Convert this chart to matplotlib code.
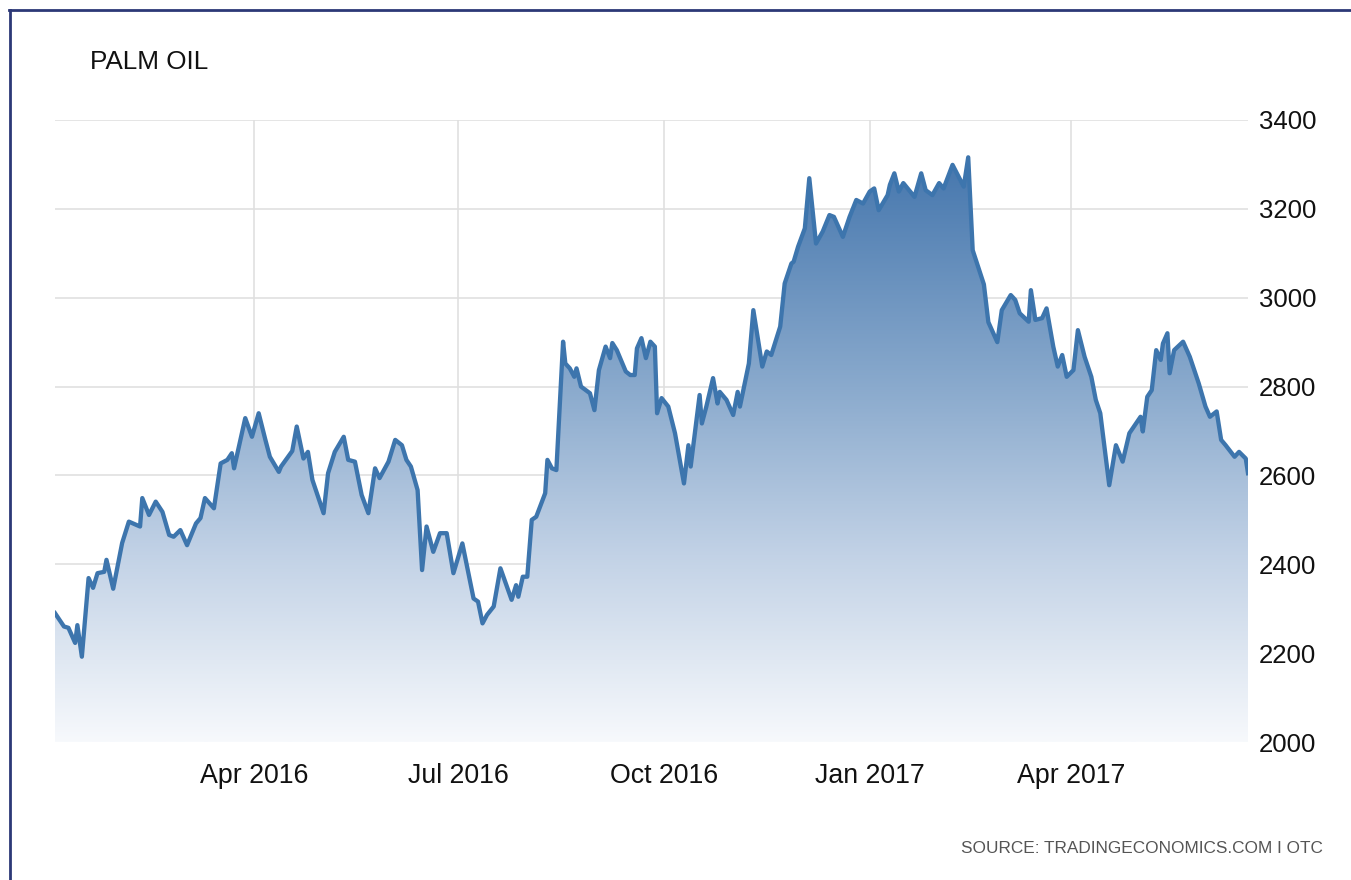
"""Palm oil price chart (TradingEconomics style)."""

import numpy as np
import pandas as pd
import matplotlib
matplotlib.use("Agg")
import matplotlib.pyplot as plt
import matplotlib.dates as mdates
from matplotlib.colors import LinearSegmentedColormap
from matplotlib.lines import Line2D

plt.rcParams["font.family"] = ["Liberation Sans", "DejaVu Sans"]

# readings
dates = [
    "2016-01-03", "2016-01-07", "2016-01-09", "2016-01-12", "2016-01-13", "2016-01-15",
    "2016-01-18", "2016-01-20", "2016-01-22", "2016-01-25", "2016-01-26", "2016-01-29",
    "2016-02-02", "2016-02-05", "2016-02-10", "2016-02-11", "2016-02-14", "2016-02-17",
    "2016-02-20", "2016-02-23", "2016-02-25", "2016-02-28", "2016-03-02", "2016-03-06",
    "2016-03-08", "2016-03-10", "2016-03-14", "2016-03-17", "2016-03-20", "2016-03-22",
    "2016-03-23", "2016-03-28", "2016-03-31", "2016-04-03", "2016-04-06", "2016-04-08",
    "2016-04-12", "2016-04-13", "2016-04-18", "2016-04-20", "2016-04-23", "2016-04-25",
    "2016-04-27", "2016-05-02", "2016-05-04", "2016-05-07", "2016-05-11", "2016-05-13",
    "2016-05-16", "2016-05-19", "2016-05-22", "2016-05-25", "2016-05-27", "2016-05-31",
    "2016-06-03", "2016-06-06", "2016-06-08", "2016-06-10", "2016-06-13", "2016-06-15",
    "2016-06-17", "2016-06-20", "2016-06-23", "2016-06-26", "2016-06-29", "2016-07-03",
    "2016-07-08", "2016-07-10", "2016-07-12", "2016-07-14", "2016-07-17", "2016-07-20",
    "2016-07-25", "2016-07-27", "2016-07-28", "2016-07-30", "2016-08-01", "2016-08-03",
    "2016-08-05", "2016-08-09", "2016-08-10", "2016-08-12", "2016-08-14", "2016-08-17",
    "2016-08-18", "2016-08-20", "2016-08-22", "2016-08-23", "2016-08-25", "2016-08-29",
    "2016-08-31", "2016-09-02", "2016-09-05", "2016-09-07", "2016-09-08", "2016-09-10",
    "2016-09-14", "2016-09-16", "2016-09-18", "2016-09-19", "2016-09-21", "2016-09-23",
    "2016-09-25", "2016-09-27", "2016-09-28", "2016-09-30", "2016-10-03", "2016-10-06",
    "2016-10-10", "2016-10-12", "2016-10-13", "2016-10-17", "2016-10-18", "2016-10-20",
    "2016-10-23", "2016-10-25", "2016-10-26", "2016-10-29", "2016-11-01", "2016-11-03",
    "2016-11-04", "2016-11-08", "2016-11-10", "2016-11-14", "2016-11-16", "2016-11-18",
    "2016-11-22", "2016-11-24", "2016-11-27", "2016-11-28", "2016-11-30", "2016-12-03",
    "2016-12-05", "2016-12-08", "2016-12-11", "2016-12-14", "2016-12-16", "2016-12-20",
    "2016-12-23", "2016-12-26", "2016-12-29", "2017-01-01", "2017-01-03", "2017-01-05",
    "2017-01-09", "2017-01-10", "2017-01-12", "2017-01-14", "2017-01-16", "2017-01-21",
    "2017-01-24", "2017-01-26", "2017-01-29", "2017-02-01", "2017-02-03", "2017-02-07",
    "2017-02-12", "2017-02-14", "2017-02-16", "2017-02-21", "2017-02-23", "2017-02-27",
    "2017-03-01", "2017-03-05", "2017-03-07", "2017-03-09", "2017-03-13", "2017-03-14",
    "2017-03-16", "2017-03-19", "2017-03-21", "2017-03-24", "2017-03-26", "2017-03-28",
    "2017-03-30", "2017-04-02", "2017-04-04", "2017-04-07", "2017-04-10", "2017-04-12",
    "2017-04-14", "2017-04-18", "2017-04-21", "2017-04-24", "2017-04-27", "2017-05-02",
    "2017-05-03", "2017-05-05", "2017-05-07", "2017-05-09", "2017-05-11", "2017-05-12",
    "2017-05-14", "2017-05-15", "2017-05-17", "2017-05-21", "2017-05-24", "2017-05-28",
    "2017-05-31", "2017-06-02", "2017-06-05", "2017-06-07", "2017-06-09", "2017-06-13",
    "2017-06-15", "2017-06-18", "2017-06-19",
]
prices = [
    2290, 2260, 2257, 2223, 2263, 2192,
    2369, 2347, 2380, 2383, 2410, 2345,
    2448, 2496, 2485, 2549, 2511, 2541,
    2518, 2466, 2462, 2477, 2443, 2492,
    2504, 2549, 2526, 2627, 2635, 2650,
    2616, 2729, 2687, 2740, 2680, 2642,
    2608, 2620, 2655, 2710, 2638, 2653,
    2590, 2515, 2605, 2653, 2687, 2635,
    2631, 2556, 2515, 2616, 2594, 2631,
    2680, 2668, 2635, 2620, 2567, 2387,
    2485, 2428, 2470, 2470, 2380, 2447,
    2323, 2316, 2267, 2286, 2305, 2391,
    2320, 2353, 2327, 2372, 2372, 2500,
    2507, 2560, 2635, 2616, 2612, 2901,
    2852, 2841, 2822, 2841, 2800, 2785,
    2747, 2837, 2890, 2864, 2898, 2882,
    2834, 2826, 2826, 2886, 2909, 2864,
    2901, 2890, 2740, 2774, 2755, 2695,
    2582, 2668, 2620, 2781, 2717, 2755,
    2819, 2762, 2788, 2770, 2736, 2788,
    2755, 2852, 2972, 2845, 2879, 2871,
    2935, 3032, 3077, 3081, 3115, 3156,
    3269, 3122, 3149, 3186, 3182, 3137,
    3182, 3220, 3212, 3239, 3246, 3197,
    3231, 3254, 3280, 3239, 3258, 3227,
    3280, 3242, 3231, 3258, 3246, 3299,
    3250, 3316, 3107, 3030, 2945, 2900,
    2972, 3006, 2995, 2965, 2946, 3017,
    2950, 2954, 2976, 2890, 2845, 2871,
    2822, 2837, 2927, 2867, 2822, 2770,
    2740, 2578, 2668, 2631, 2695, 2732,
    2699, 2777, 2792, 2882, 2860, 2897,
    2920, 2830, 2882, 2901, 2867, 2807,
    2755, 2732, 2744, 2680, 2668, 2642,
    2653, 2638, 2605,
]
tick_dates = ["2016-04-01", "2016-07-01", "2016-10-01", "2017-01-01", "2017-04-01"]
tick_labels = ["Apr 2016", "Jul 2016", "Oct 2016", "Jan 2017", "Apr 2017"]
y_ticks = [2000, 2200, 2400, 2600, 2800, 3000, 3200, 3400]

x = mdates.date2num(pd.to_datetime(dates))
y = np.array(prices, dtype=float)
y_min, y_max = 2000, 3400

fig = plt.figure(figsize=(13.51, 8.8), dpi=100)
ax = fig.add_axes([55 / 1351, 1 - 742 / 880, (1248 - 55) / 1351, (742 - 120) / 880])

# gradient fill under the line, clipped to the area polygon
cmap = LinearSegmentedColormap.from_list(
    "te", [(0.0, "#f7f9fc"), (0.3, "#c2d2e6"), (0.57, "#8aaacd"), (1.0, "#3a6ea8")]
)
grad = np.linspace(0, 1, 256).reshape(-1, 1)
im = ax.imshow(grad, cmap=cmap, origin="lower", aspect="auto",
               extent=[x[0], x[-1], y_min, y_max], zorder=1)
area = ax.fill_between(x, y, y_min, facecolor="none", edgecolor="none")
im.set_clip_path(area.get_paths()[0], transform=ax.transData)

ax.plot(x, y, color="#3d75ad", linewidth=3.1, solid_joinstyle="round", zorder=3)

ax.set_xlim(x[0], x[-1])
ax.set_ylim(y_min, y_max)
ax.set_xticks(mdates.date2num(pd.to_datetime(tick_dates)))
ax.set_xticklabels(tick_labels)
ax.set_yticks(y_ticks)
ax.yaxis.tick_right()
ax.tick_params(axis="both", length=0, colors="#111111")
ax.tick_params(axis="x", pad=15, labelsize=19.3)
ax.tick_params(axis="y", pad=8, labelsize=18.5)
ax.grid(True, color="#e0e0e0", linewidth=1.2, zorder=0)
ax.set_axisbelow(True)
for s in ax.spines.values():
    s.set_visible(False)

fig.text(90 / 1351, 1 - 62 / 880, "PALM OIL", fontsize=18.8, ha="left", va="center",
         color="#111111")
fig.text(1323 / 1351, 1 - 848 / 880, "SOURCE: TRADINGECONOMICS.COM I OTC",
         fontsize=12.4, ha="right", va="center", color="#555555")

# navy frame on the top and left edge
fig.add_artist(Line2D([9 / 1351, 1], [1 - 10 / 880] * 2, color="#2c3877", linewidth=2))
fig.add_artist(Line2D([10 / 1351] * 2, [0, 1 - 10 / 880], color="#2c3877", linewidth=2))

fig.savefig("out.png", dpi=100)
